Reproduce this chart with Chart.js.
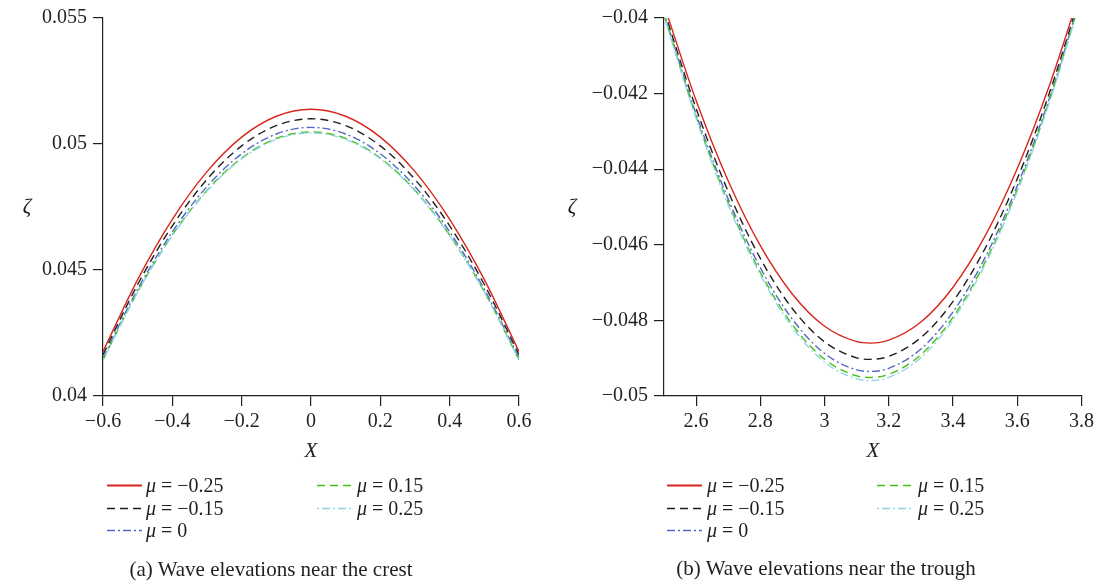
<!DOCTYPE html>
<html>
<head>
<meta charset="utf-8">
<script src="https://cdn.jsdelivr.net/npm/chart.js@4.4.1/dist/chart.umd.min.js"></script>
<style>
  html, body { margin: 0; padding: 0; background: #fff; }
  body { width: 1098px; height: 586px; position: relative; overflow: hidden;
         font-family: "Liberation Serif", "DejaVu Serif", serif; color: #231f20; }
  canvas { position: absolute; top: 0; }
  .t { position: absolute; white-space: nowrap; font-size: 20px; line-height: 22px; }
  .cap { position: absolute; white-space: nowrap; font-size: 21px; line-height: 22px; transform: translateX(-50%); }
  .ax { position: absolute; font-style: italic; font-size: 21px; line-height: 22px; transform: translateX(-50%); }
  svg.leg { position: absolute; overflow: visible; }
</style>
</head>
<body>
<canvas id="cA" width="540" height="470" style="left:0px"></canvas>
<canvas id="cB" width="538" height="470" style="left:560px"></canvas>

<div class="ax" style="left:27px; top:195px;">ζ</div>
<div class="ax" style="left:311px; top:439px;">X</div>
<div class="ax" style="left:572px; top:195px;">ζ</div>
<div class="ax" style="left:873px; top:439px;">X</div>

<div id="legA"></div>
<div id="legB"></div>

<div class="cap" style="left:271px; top:558px;">(a) Wave elevations near the crest</div>
<div class="cap" style="left:826px; top:557px;">(b) Wave elevations near the trough</div>

<script>
// ---------- data ----------
const seriesNames = ['μ = −0.25', 'μ = −0.15', 'μ = 0', 'μ = 0.15', 'μ = 0.25'];

// (a) near the crest
const xCrest = [-0.6, -0.5, -0.4, -0.3, -0.2, -0.1, 0, 0.1, 0.2, 0.3, 0.4, 0.5, 0.6];
const crestM025 = [0.041762, 0.044621, 0.047012, 0.048904, 0.050274, 0.051102, 0.05138, 0.051102, 0.050274, 0.048904, 0.047012, 0.044621, 0.041762];
const crestM015 = [0.041636, 0.044424, 0.046753, 0.048594, 0.049925, 0.050730, 0.051000, 0.050730, 0.049925, 0.048594, 0.046753, 0.044424, 0.041636];
const crest0    = [0.041508, 0.044237, 0.046514, 0.048313, 0.049611, 0.050397, 0.050660, 0.050397, 0.049611, 0.048313, 0.046514, 0.044237, 0.041508];
const crestP015 = [0.041439, 0.044137, 0.046386, 0.048162, 0.049445, 0.050220, 0.050480, 0.050220, 0.049445, 0.048162, 0.046386, 0.044137, 0.041439];
const crestP025 = [0.041433, 0.044122, 0.046363, 0.048132, 0.049409, 0.050182, 0.050440, 0.050182, 0.049409, 0.048132, 0.046363, 0.044122, 0.041433];

// (b) near the trough
const xTrough = [2.5, 2.6, 2.7, 2.8, 2.9, 3.0, 3.1, 3.1416, 3.2, 3.3, 3.4, 3.5, 3.6, 3.7, 3.8];
const troughM025 = [-0.039655, -0.042185, -0.044313, -0.046024, -0.047307, -0.048155, -0.048562, -0.048600, -0.048523, -0.048043, -0.047122, -0.045766, -0.043983, -0.041787, -0.039192];
const troughM015 = [-0.039790, -0.042396, -0.044592, -0.046361, -0.047691, -0.048568, -0.048990, -0.049030, -0.048951, -0.048453, -0.047499, -0.046094, -0.044252, -0.041986, -0.039312];
const trough0    = [-0.039875, -0.042542, -0.044792, -0.046608, -0.047973, -0.048875, -0.049309, -0.049350, -0.049268, -0.048757, -0.047776, -0.046334, -0.044444, -0.042122, -0.039387];
const troughP015 = [-0.039915, -0.042613, -0.044891, -0.046730, -0.048114, -0.049028, -0.049469, -0.049510, -0.049427, -0.048908, -0.047913, -0.046452, -0.044539, -0.042188, -0.039423];
const troughP025 = [-0.039948, -0.042658, -0.044947, -0.046795, -0.048187, -0.049106, -0.049548, -0.049590, -0.049507, -0.048985, -0.047986, -0.046517, -0.044592, -0.042232, -0.039453];

// ticks
const xTicksA = [-0.6, -0.4, -0.2, 0, 0.2, 0.4, 0.6];
const xTickLabelsA = ['−0.6', '−0.4', '−0.2', '0', '0.2', '0.4', '0.6'];
const yTicksA = [0.04, 0.045, 0.05, 0.055];
const yTickLabelsA = ['0.04', '0.045', '0.05', '0.055'];
const xTicksB = [2.6, 2.8, 3.0, 3.2, 3.4, 3.6, 3.8];
const xTickLabelsB = ['2.6', '2.8', '3', '3.2', '3.4', '3.6', '3.8'];
const yTicksB = [-0.05, -0.048, -0.046, -0.044, -0.042, -0.04];
const yTickLabelsB = ['−0.05', '−0.048', '−0.046', '−0.044', '−0.042', '−0.04'];

// ---------- styles ----------
const styles = [
  { color: '#d9261c', dash: [] },
  { color: '#231f20', dash: [8, 5] },
  { color: '#5468c4', dash: [8, 3, 2, 3] },
  { color: '#46bf14', dash: [8, 5] },
  { color: '#8fd6e8', dash: [2, 3, 8, 3] }
];

function makeDatasets(xs, arrs) {
  return arrs.map((arr, i) => ({
    label: seriesNames[i],
    data: xs.map((x, j) => ({ x: x, y: arr[j] })),
    borderColor: styles[i].color,
    borderDash: styles[i].dash,
    borderWidth: 1.4,
    pointRadius: 0,
    fill: false,
    cubicInterpolationMode: 'monotone',
    clip: 0
  })).reverse();
}

const FONT = { family: '"Liberation Serif", "DejaVu Serif", serif', size: 20 };
const AXC = '#231f20';

function makeScales(xmin, xmax, xt, xl, ymin, ymax, yt, yl, yw) {
  return {
    x: {
      type: 'linear', min: xmin, max: xmax,
      afterBuildTicks: s => { s.ticks = xt.map(v => ({ value: v })); },
      afterFit: s => { s.height = 74; },
      ticks: { autoSkip: false, maxRotation: 0, padding: 4, color: AXC, font: FONT,
               callback: (v, i) => xl[i] },
      grid: { display: true, drawOnChartArea: false, drawTicks: true, tickLength: 10, color: AXC, lineWidth: 1.2 },
      border: { display: true, color: AXC, width: 1.2 }
    },
    y: {
      type: 'linear', min: ymin, max: ymax,
      afterBuildTicks: s => { s.ticks = yt.map(v => ({ value: v })); },
      afterFit: s => { s.width = yw; },
      ticks: { autoSkip: false, padding: 6, color: AXC, font: FONT,
               callback: (v, i) => yl[i] },
      grid: { display: true, drawOnChartArea: false, drawTicks: true, tickLength: 10, color: AXC, lineWidth: 1.2 },
      border: { display: true, color: AXC, width: 1.2 }
    }
  };
}

function makeChart(id, datasets, scales, padRight) {
  return new Chart(document.getElementById(id), {
    type: 'line',
    data: { datasets: datasets },
    options: {
      responsive: false, animation: false, devicePixelRatio: 1,
      layout: { padding: { top: 16, right: padRight, left: 0, bottom: 0 } },
      plugins: { legend: { display: false }, tooltip: { enabled: false } },
      scales: scales
    }
  });
}

makeChart('cA', makeDatasets(xCrest, [crestM025, crestM015, crest0, crestP015, crestP025]),
  makeScales(-0.6, 0.6, xTicksA, xTickLabelsA, 0.04, 0.055, yTicksA, yTickLabelsA, 103), 21);
makeChart('cB', makeDatasets(xTrough, [troughM025, troughM015, trough0, troughP015, troughP025]),
  makeScales(2.5, 3.8, xTicksB, xTickLabelsB, -0.05, -0.04, yTicksB, yTickLabelsB, 104), 16);

// ---------- legends ----------
function buildLegend(containerId, col1Line, col1Text, col2Line, col2Text) {
  const c = document.getElementById(containerId);
  const rows = [485, 507.5, 530];
  const pos = [[0, 0], [0, 1], [0, 2], [1, 0], [1, 1]];
  seriesNames.forEach((name, i) => {
    const col = pos[i][0], row = pos[i][1];
    const lx = col === 0 ? col1Line : col2Line;
    const tx = col === 0 ? col1Text : col2Text;
    const y = rows[row];
    const svg = document.createElementNS('http://www.w3.org/2000/svg', 'svg');
    svg.setAttribute('class', 'leg');
    svg.setAttribute('width', 36); svg.setAttribute('height', 4);
    svg.style.left = lx + 'px'; svg.style.top = (y - 1) + 'px';
    const ln = document.createElementNS('http://www.w3.org/2000/svg', 'line');
    ln.setAttribute('x1', 0); ln.setAttribute('x2', 35);
    ln.setAttribute('y1', 1.5); ln.setAttribute('y2', 1.5);
    ln.setAttribute('stroke', styles[i].color);
    ln.setAttribute('stroke-width', i === 0 ? 2 : 1.6);
    if (styles[i].dash.length) ln.setAttribute('stroke-dasharray', styles[i].dash.join(' '));
    svg.appendChild(ln);
    c.appendChild(svg);
    const d = document.createElement('div');
    d.className = 't';
    d.style.left = tx + 'px'; d.style.top = (y - 11) + 'px';
    const parts = name.split(' = ');
    d.innerHTML = '<i>' + parts[0] + '</i> = ' + parts[1];
    c.appendChild(d);
  });
}
buildLegend('legA', 107, 146, 317, 357);
buildLegend('legB', 667, 707, 877, 918);
</script>
</body>
</html>
